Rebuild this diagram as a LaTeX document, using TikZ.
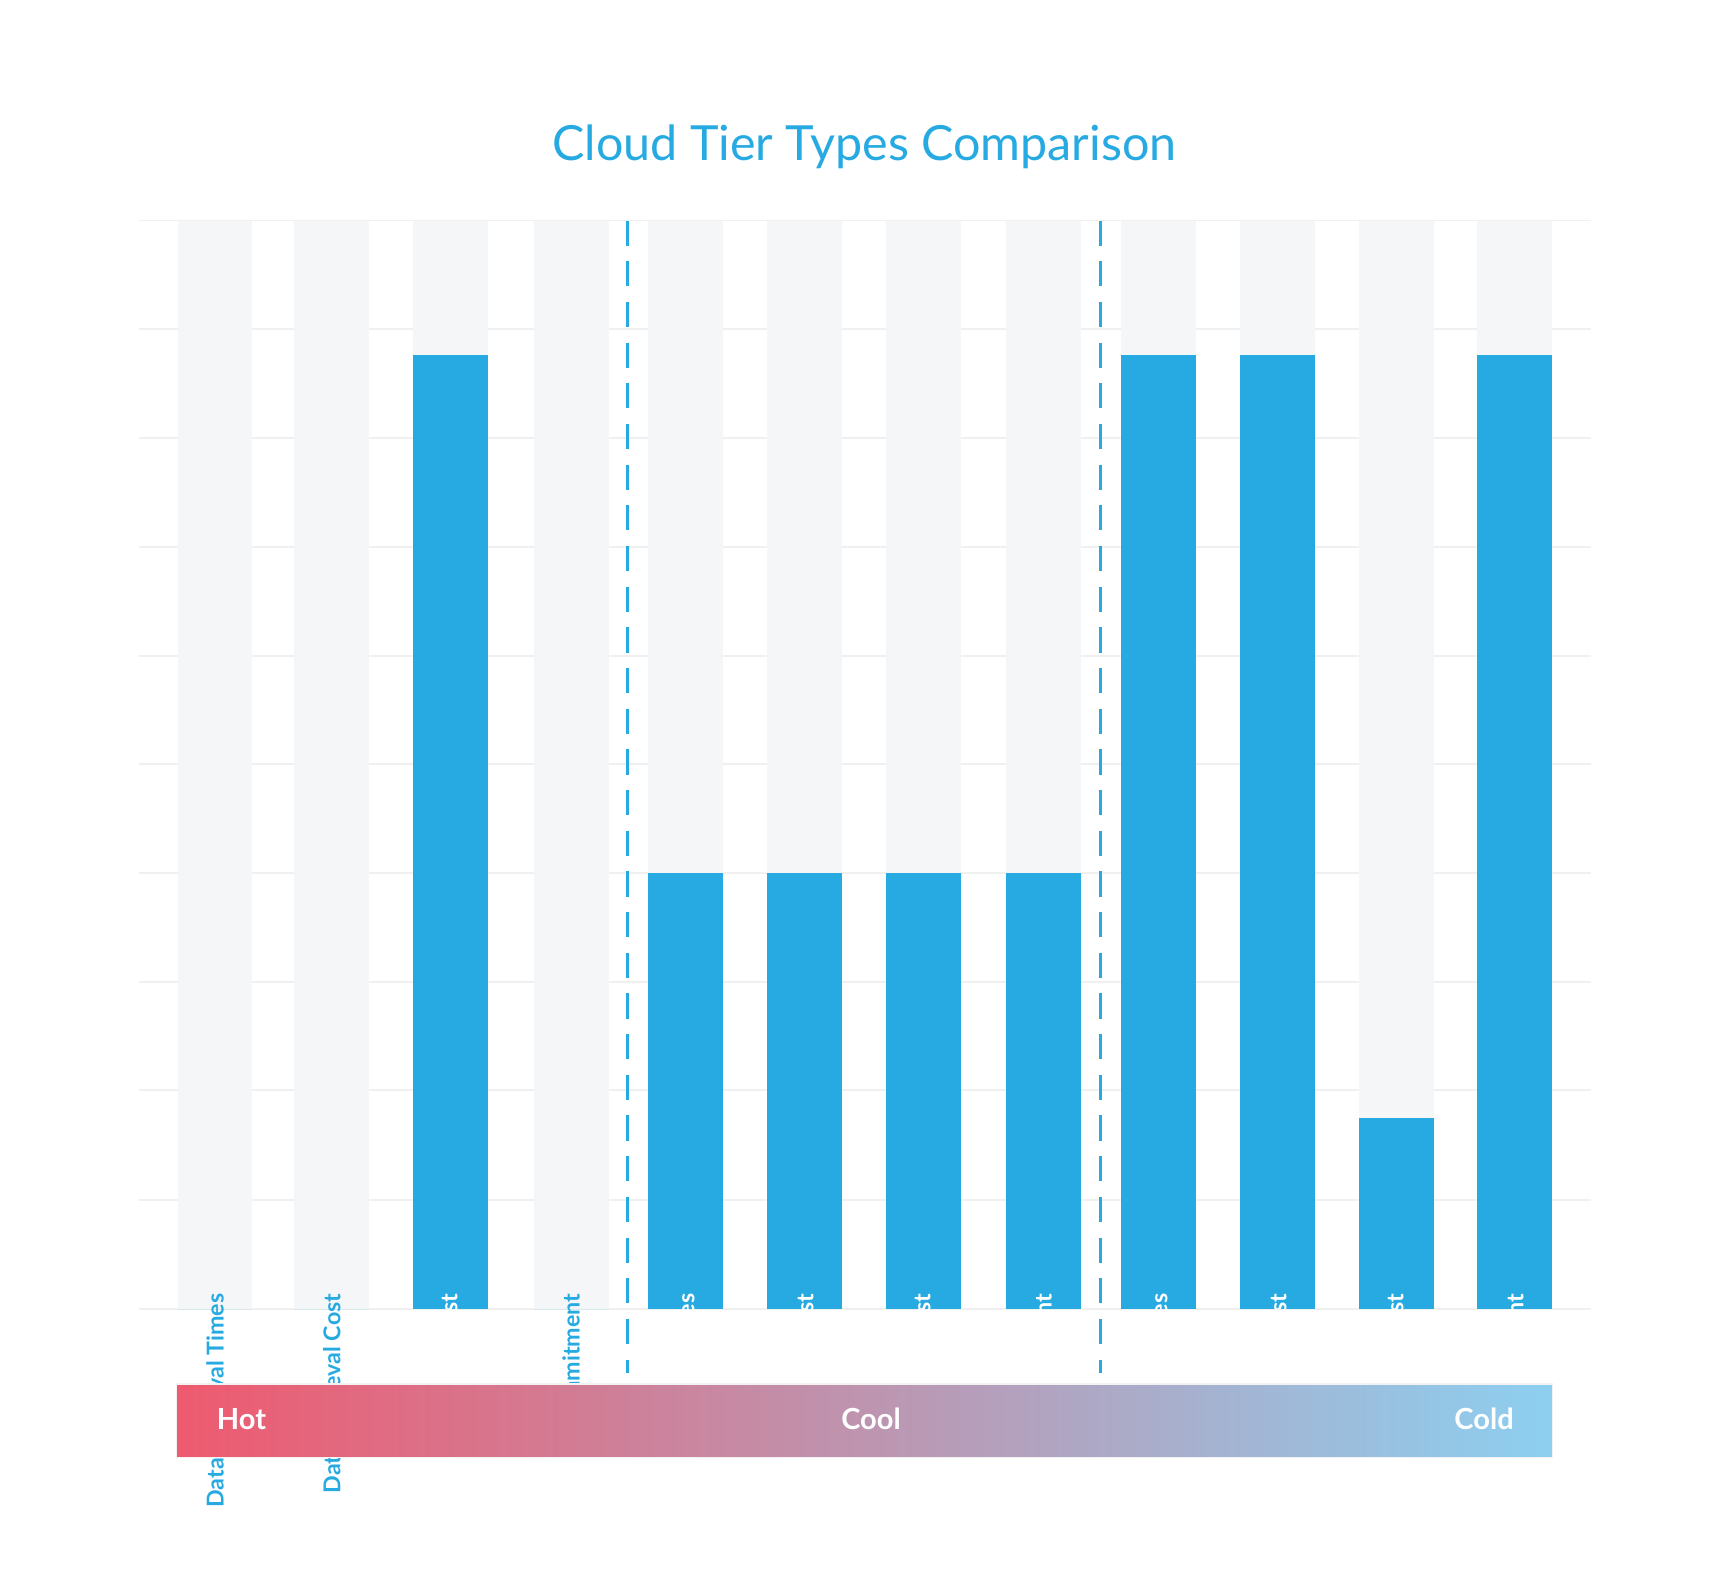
\documentclass[tikz,border=0pt]{standalone}
\usepackage{fontspec}
\setmainfont{Lato}
\begin{document}
\begin{tikzpicture}[x=0.02cm,y=-0.02cm,
  grid/.style={draw=gray!12,line width=1pt},
  bg/.style={fill=barbg,draw=none},
  val/.style={fill=tierblue,draw=none},
  lbl/.style={rotate=90,anchor=east,font=\bfseries\fontsize{12}{14}\selectfont,inner sep=0pt},
  sep dash/.style={draw=tierblue,line width=1.3pt,dash pattern=on 13pt off 8pt}]
\definecolor{tierblue}{HTML}{27AAE1}
\definecolor{barbg}{HTML}{F5F6F8}
\definecolor{hot}{HTML}{EE5A6F}
\definecolor{cold}{HTML}{8DCFF0}
\useasboundingbox (0,0) rectangle (1560,1430);
\fill[white] (0,0) rectangle (1560,1430);
\node[font=\fontsize{25}{30}\selectfont,text=tierblue] (title) at (784,133) {Cloud Tier Types Comparison};
\foreach \y in {200,298,397,496,595,693,792,891,989,1088,1187}
  \draw[grid] (126,\y) -- (1443,\y);
\foreach \x/\t/\lab [count=\i] in {161/1187/Data Retrieval Times,267/1187/Data Retrieval Cost,375/322/Storage Cost,484/1187/Commitment,588/792/Data Retrieval Times,696/792/Data Retrieval Cost,804/792/Storage Cost,912/792/Commitment,1017/322/Data Retrieval Times,1125/322/Data Retrieval Cost,1233/1014/Storage Cost,1340/322/Commitment}{
  \fill[bg] (\x,200) rectangle (\x+68,1187);
  \fill[val] (\x,\t) rectangle (\x+68,1187);
  \ifnum\t<1187 \def\c{white}\else\def\c{tierblue}\fi
  \node[lbl,text=\c] (l\i) at (\x+34,1173) {\lab};
}
\coordinate (d1a) at (569,200); \coordinate (d1b) at (569,1245);
\coordinate (d2a) at (998,200); \coordinate (d2b) at (998,1245);
\draw[sep dash] (d1a) -- (d1b);
\draw[sep dash] (d2a) -- (d2b);
\shade[left color=hot,right color=cold] (160,1255) rectangle (1408,1322);
\draw[white!90!gray,line width=0.8pt] (160,1255) rectangle (1408,1322);
\foreach \x/\t/\n in {219/Hot/hot,790/Cool/cool,1346/Cold/cold}
  \node[text=white,font=\bfseries\fontsize{15}{18}\selectfont] (\n) at (\x,1287) {\t};
\end{tikzpicture}
\end{document}
